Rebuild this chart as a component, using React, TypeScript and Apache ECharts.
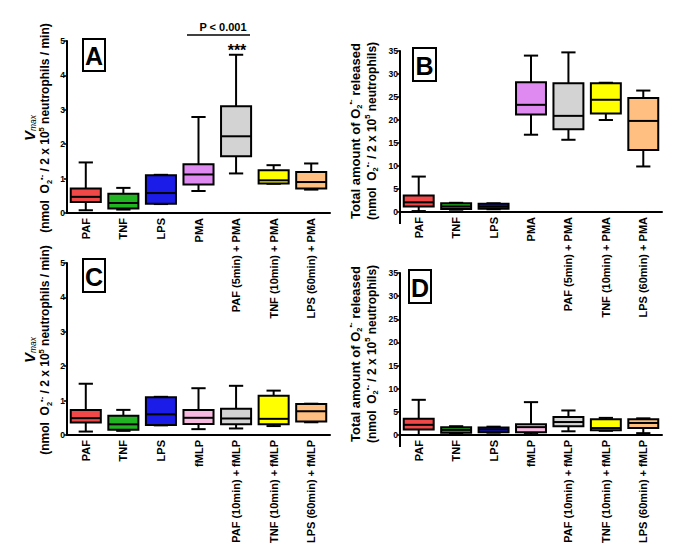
import React, { useEffect, useRef } from 'react';
import * as echarts from 'echarts';

const categoriesPMA = ['PAF', 'TNF', 'LPS', 'PMA', 'PAF (5min) + PMA', 'TNF (10min) + PMA', 'LPS (60min) + PMA'];
const categoriesFMLP = ['PAF', 'TNF', 'LPS', 'fMLP', 'PAF (10min) + fMLP', 'TNF (10min) + fMLP', 'LPS (60min) + fMLP'];
const colorsPMA = ['#f04848', '#22b322', '#1c1ce8', '#df8af0', '#d3d3d3', '#ffff00', '#ffbf80'];
const colorsFMLP = ['#f04848', '#22b322', '#1c1ce8', '#f7b9df', '#d3d3d3', '#ffff00', '#ffbf80'];

// [min, Q1, median, Q3, max]
const vmaxPMA = [
  [0.08, 0.32, 0.47, 0.71, 1.47],
  [0.10, 0.13, 0.29, 0.56, 0.73],
  [0.26, 0.27, 0.58, 1.10, 1.11],
  [0.64, 0.83, 1.12, 1.42, 2.79],
  [1.15, 1.65, 2.23, 3.10, 4.60],
  [0.85, 0.86, 0.95, 1.24, 1.39],
  [0.68, 0.71, 0.90, 1.19, 1.44],
];
const totalPMA = [
  [0.2, 1.2, 2.1, 3.6, 7.7],
  [0.5, 0.65, 1.2, 1.9, 2.0],
  [0.6, 0.7, 1.2, 1.8, 1.9],
  [16.8, 21.2, 23.3, 28.2, 34.0],
  [15.7, 18.0, 20.9, 28.0, 34.7],
  [20.0, 21.4, 24.4, 28.0, 28.1],
  [9.9, 13.5, 19.8, 24.8, 26.4],
];
const vmaxFMLP = [
  [0.10, 0.36, 0.49, 0.73, 1.49],
  [0.12, 0.15, 0.31, 0.56, 0.73],
  [0.28, 0.29, 0.60, 1.10, 1.11],
  [0.17, 0.32, 0.50, 0.73, 1.36],
  [0.19, 0.31, 0.48, 0.76, 1.43],
  [0.26, 0.31, 0.47, 1.14, 1.29],
  [0.37, 0.39, 0.69, 0.90, 0.91],
];
const totalFMLP = [
  [0.0, 1.2, 2.2, 3.5, 7.6],
  [0.4, 0.5, 1.1, 1.7, 1.9],
  [0.5, 0.6, 1.2, 1.6, 1.8],
  [0.2, 0.6, 1.7, 2.3, 7.1],
  [0.8, 1.9, 2.8, 3.9, 5.3],
  [0.9, 1.0, 1.5, 3.4, 3.7],
  [0.4, 1.5, 2.6, 3.4, 3.6],
];
const vmaxAxis = { min: 0, max: 5, interval: 1 };
const totalAxis = { min: 0, max: 35, interval: 5 };

const FONT = '"Liberation Sans", Arial, Helvetica, sans-serif';

const grids = [
  { left: 67, top: 41, width: 263, height: 172 },
  { left: 400, top: 51, width: 262, height: 161 },
  { left: 67, top: 263, width: 263, height: 172 },
  { left: 400, top: 273, width: 262, height: 162 },
];

function makeRender(colors: string[]) {
  return (params: any, api: any) => {
    const idx = api.value(0);
    const x = api.coord([idx, 0])[0];
    const band = api.size([1, 0])[0];
    const bw = band * 0.8;
    const cw = band * 0.38;
    const yMin = api.coord([idx, api.value(1)])[1];
    const yQ1 = api.coord([idx, api.value(2)])[1];
    const yMed = api.coord([idx, api.value(3)])[1];
    const yQ3 = api.coord([idx, api.value(4)])[1];
    const yMax = api.coord([idx, api.value(5)])[1];
    const ls = { stroke: '#000', lineWidth: 2 };
    return {
      type: 'group',
      children: [
        { type: 'line', shape: { x1: x, y1: yMax, x2: x, y2: yQ3 }, style: ls },
        { type: 'line', shape: { x1: x, y1: yQ1, x2: x, y2: yMin }, style: ls },
        { type: 'line', shape: { x1: x - cw / 2, y1: yMax, x2: x + cw / 2, y2: yMax }, style: ls },
        { type: 'line', shape: { x1: x - cw / 2, y1: yMin, x2: x + cw / 2, y2: yMin }, style: ls },
        {
          type: 'rect',
          shape: { x: x - bw / 2, y: yQ3, width: bw, height: yQ1 - yQ3 },
          style: { fill: colors[idx], stroke: '#000', lineWidth: 2 },
        },
        { type: 'line', shape: { x1: x - bw / 2, y1: yMed, x2: x + bw / 2, y2: yMed }, style: ls },
      ],
    };
  };
}

function xAxis(gridIndex: number, data: string[]) {
  return {
    type: 'category',
    gridIndex,
    data,
    boundaryGap: true,
    axisLine: { onZero: false, lineStyle: { color: '#000', width: 2 } },
    axisTick: { alignWithLabel: true, length: 4, lineStyle: { color: '#000', width: 2 } },
    axisLabel: { rotate: 90, interval: 0, fontSize: 11, fontWeight: 'bold', color: '#000', fontFamily: FONT, margin: 5 },
    splitLine: { show: false },
  };
}

function yAxis(gridIndex: number, range: any) {
  return {
    type: 'value',
    gridIndex,
    ...range,
    axisLine: { show: true, lineStyle: { color: '#000', width: 2 } },
    axisTick: { show: true, length: 3, lineStyle: { color: '#000', width: 1.5 } },
    axisLabel: { fontSize: 8.5, fontWeight: 'bold', color: '#000', fontFamily: FONT, margin: 2 },
    splitLine: { show: false },
  };
}

const richBase = {
  t: { fontSize: 12, fontWeight: 'bold', fontFamily: FONT, fill: '#000', lineHeight: 16, verticalAlign: 'middle' },
  sub: { fontSize: 7.5, fontWeight: 'bold', fontFamily: FONT, fill: '#000', lineHeight: 16, verticalAlign: 'bottom' },
  sup: { fontSize: 7.5, fontWeight: 'bold', fontFamily: FONT, fill: '#000', lineHeight: 16, verticalAlign: 'top' },
  v: { fontSize: 15, fontWeight: 'bold', fontStyle: 'italic', fontFamily: FONT, fill: '#000', lineHeight: 16, verticalAlign: 'middle' },
  vs: { fontSize: 8.5, fontStyle: 'italic', fontFamily: FONT, fill: '#000', lineHeight: 16, verticalAlign: 'bottom' },
  big: { fontSize: 13, fontWeight: 'bold', fontFamily: FONT, fill: '#000', lineHeight: 17, verticalAlign: 'middle' },
};

const vmaxTitle = '{v|V}{vs|max}\n{t|(nmol  O}{sub|2}{sup|•-}{t| / 2 x 10}{sup|5}{t| neutrophils / min)}';
const totalTitle = '{big|Total amount of O}{sub|2}{sup|•-}{big| released}\n{t|(nmol  O}{sub|2}{sup|•-}{t| / 2 x 10}{sup|5}{t| neutrophils)}';

function axisTitle(text: string, x: number, y: number) {
  return {
    type: 'text',
    x,
    y,
    rotation: Math.PI / 2,
    style: { text, rich: richBase, align: 'center', verticalAlign: 'middle', fill: '#000' },
  };
}

function panelLetter(letter: string, x: number, y: number, w: number, h: number) {
  return [
    { type: 'rect', shape: { x, y, width: w, height: h }, style: { fill: '#fff', stroke: '#000', lineWidth: 2 } },
    {
      type: 'text',
      x: x + w / 2,
      y: y + h / 2 + 1,
      style: { text: letter, fontSize: 25, fontWeight: 'bold', fontFamily: FONT, fill: '#000', align: 'center', verticalAlign: 'middle' },
    },
  ];
}

export default function App() {
  const ref = useRef<HTMLDivElement>(null);
  useEffect(() => {
    if (!ref.current) return;
    const chart = echarts.init(ref.current, undefined, { renderer: 'svg' });
    const toData = (arr: number[][]) => arr.map((v, i) => [i, ...v]);
    chart.setOption({
      animation: false,
      backgroundColor: '#fff',
      grid: grids,
      xAxis: [xAxis(0, categoriesPMA), xAxis(1, categoriesPMA), xAxis(2, categoriesFMLP), xAxis(3, categoriesFMLP)],
      yAxis: [yAxis(0, vmaxAxis), yAxis(1, totalAxis), yAxis(2, vmaxAxis), yAxis(3, totalAxis)],
      series: [
        { type: 'custom', xAxisIndex: 0, yAxisIndex: 0, renderItem: makeRender(colorsPMA), data: toData(vmaxPMA), encode: { x: 0, y: [1, 2, 3, 4, 5] }, clip: false },
        { type: 'custom', xAxisIndex: 1, yAxisIndex: 1, renderItem: makeRender(colorsPMA), data: toData(totalPMA), encode: { x: 0, y: [1, 2, 3, 4, 5] }, clip: false },
        { type: 'custom', xAxisIndex: 2, yAxisIndex: 2, renderItem: makeRender(colorsFMLP), data: toData(vmaxFMLP), encode: { x: 0, y: [1, 2, 3, 4, 5] }, clip: false },
        { type: 'custom', xAxisIndex: 3, yAxisIndex: 3, renderItem: makeRender(colorsFMLP), data: toData(totalFMLP), encode: { x: 0, y: [1, 2, 3, 4, 5] }, clip: false },
      ],
      graphic: [
        axisTitle(vmaxTitle, 37, 128),
        axisTitle(totalTitle, 363, 131),
        axisTitle(vmaxTitle, 37, 350),
        axisTitle(totalTitle, 363, 354),
        ...panelLetter('A', 83, 39, 22, 32),
        ...panelLetter('B', 413, 48, 23, 33),
        ...panelLetter('C', 83, 259, 22, 33),
        ...panelLetter('D', 409, 270, 22, 33),
        { type: 'line', shape: { x1: 400, y1: 212, x2: 400, y2: 224 }, style: { stroke: '#000', lineWidth: 2 } },
        { type: 'line', shape: { x1: 400, y1: 435, x2: 400, y2: 447 }, style: { stroke: '#000', lineWidth: 2 } },
        { type: 'line', shape: { x1: 187, y1: 35, x2: 250, y2: 35 }, style: { stroke: '#000', lineWidth: 1.5 } },
        {
          type: 'text', x: 223, y: 27,
          style: { text: 'P < 0.001', fontSize: 11, fontWeight: 'bold', fontFamily: FONT, fill: '#000', align: 'center', verticalAlign: 'middle' },
        },
        {
          type: 'text', x: 237, y: 50,
          style: { text: '***', fontSize: 16, fontWeight: 'bold', fontFamily: FONT, fill: '#000', align: 'center', verticalAlign: 'middle' },
        },
      ],
    });
    return () => chart.dispose();
  }, []);
  return <div ref={ref} style={{ position: 'absolute', left: 0, top: 0, width: 685, height: 551, background: '#fff' }} />;
}
